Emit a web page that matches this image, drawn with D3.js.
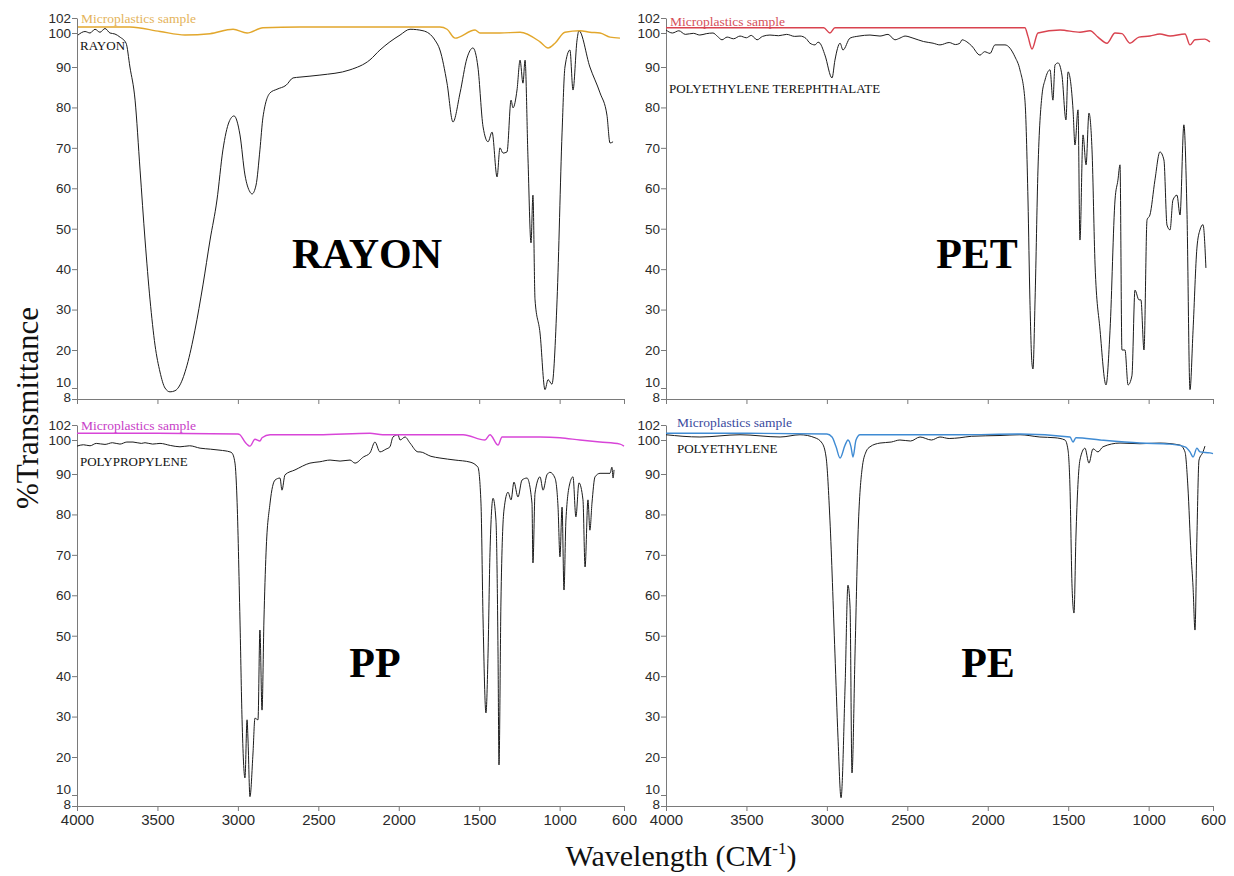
<!DOCTYPE html>
<html>
<head>
<meta charset="utf-8">
<script src="https://cdn.jsdelivr.net/npm/d3@7"></script>
<style>
  body { margin: 0; background: #fff; }
  .axis path, .axis line { stroke: #7a7a7a; }
  .axis text { font-family: "Liberation Sans", Arial, sans-serif; fill: #2a2a2a; }
  .serif { font-family: "Liberation Serif", "Times New Roman", serif; }
</style>
</head>
<body>
<div id="chart"></div>
<script>
const wavenumberTicks = [4000, 3500, 3000, 2500, 2000, 1500, 1000, 600]
const transmittanceTicks = [8, 10, 20, 30, 40, 50, 60, 70, 80, 90, 100, 102]
// the printed y axis is stretched unevenly near both ends
const transmittanceBreaks = [8, 10, 20, 90, 100, 102]

// [wavenumber cm-1, %T]
const rayonReference = [[3994,99.4],[3950,100.2],[3919,100],[3888,100.5],[3857,100.1],[3826,100.6],[3795,100],[3764,99.7],[3733,98.8],[3695,97],[3671,90],[3639,81.8],[3608,64.5],[3577,47.2],[3546,32.4],[3515,21.2],[3484,14.2],[3453,10],[3422,9.3],[3391,9.5],[3360,10.8],[3316,16],[3267,24.9],[3217,36.1],[3173,47.2],[3130,57.1],[3093,69.5],[3055,76.4],[3024,77.9],[2987,73.2],[2956,63.3],[2925,59.1],[2912,58.6],[2887,60.8],[2863,69.5],[2844,77.6],[2800,83.6],[2757,84.5],[2700,85.5],[2657,87.3],[2614,87.5],[2490,88],[2303,89.3],[2179,92.1],[2117,95],[2055,97.4],[1992,99.4],[1930,100.5],[1849,100.3],[1775,97.9],[1744,95],[1700,86],[1663,76.4],[1619,83.6],[1576,92.6],[1539,95.6],[1508,90],[1476,75.2],[1445,71.5],[1420,73.9],[1389,62.8],[1371,70],[1352,68.7],[1327,69],[1302,81.8],[1290,79.9],[1265,84.3],[1246,92],[1228,86],[1215,92],[1197,67.7],[1178,46.5],[1166,58.3],[1153,32.4],[1122,24.2],[1091,9.7],[1072,12.2],[1048,11],[1016,32.4],[985,73.7],[967,90],[936,95],[917,84.3],[892,97.9],[880,100.3],[812,90],[749,83.6],[706,78.1],[687,71.2],[668,71.5]]
const rayonSample = [[3994,100.8],[3671,100.8],[3484,100.2],[3329,99.4],[3173,99.8],[3030,100.5],[2943,100],[2844,100.7],[2614,100.8],[2117,100.8],[1744,100.8],[1700,100.5],[1650,98.5],[1526,100.4],[1495,100],[1371,100],[1246,100.1],[1122,97.4],[1072,95.6],[1029,97],[967,100.1],[874,100.3],[812,100.1],[749,100],[687,98.8],[625,98.5]]

const petReference = [[4000,100.4],[3960,100],[3920,100.3],[3880,99.6],[3830,99.9],[3790,99.4],[3750,99.8],[3708,100],[3680,99],[3652,98],[3620,98.8],[3580,98.3],[3540,99.1],[3500,98.6],[3470,99.3],[3434,98],[3400,99],[3354,99.4],[3300,99.2],[3250,99.6],[3200,99],[3167,99.1],[3130,98.4],[3105,97],[3074,96.5],[3055,97.3],[3043,97],[3012,93.5],[2968,87.3],[2950,92],[2918,97],[2900,95],[2856,98.5],[2800,99.1],[2732,99.4],[2670,99.1],[2620,99.6],[2577,98],[2546,98.5],[2514,99.1],[2465,98.5],[2400,97.5],[2340,97],[2297,96.5],[2240,97.2],[2200,96.6],[2173,97],[2160,98],[2130,97.4],[2100,96.2],[2048,93.5],[2020,94.5],[1986,94],[1955,96.5],[1893,96.5],[1831,93],[1800,89.3],[1769,81.8],[1750,57.1],[1738,32.4],[1725,16.3],[1719,15],[1706,32.4],[1688,64.5],[1663,83],[1644,86.8],[1613,89.3],[1595,81.8],[1582,90.6],[1563,91.2],[1539,88],[1514,76.9],[1501,88.8],[1470,79.4],[1458,70.7],[1439,79.4],[1427,47.2],[1408,73.2],[1389,65.8],[1371,78.6],[1352,69.5],[1333,41],[1302,24.9],[1265,10.8],[1240,24.9],[1209,57.1],[1191,62],[1178,65.8],[1166,20],[1147,20],[1128,10.8],[1104,13.2],[1085,34.8],[1060,32.4],[1048,32.4],[1029,20],[1010,52.2],[992,53.4],[961,62],[930,69],[905,67],[886,50.9],[867,49.7],[849,57.1],[824,58.3],[805,53.4],[781,75.7],[762,54.6],[743,9.7],[724,24.9],[700,45.2],[681,49.7],[662,51],[644,40.3]]
const petSample = [[4000,100.7],[3500,100.7],[3020,100.7],[2981,100],[2950,100.7],[2500,100.7],[1800,100.7],[1769,100.7],[1750,99],[1725,95.3],[1688,100],[1551,100.4],[1427,100.1],[1364,100.3],[1315,98.8],[1259,97],[1209,100],[1166,99.8],[1116,97],[1060,98.8],[992,99.1],[930,99.7],[867,99.1],[774,99.7],[743,96.5],[712,98],[650,98.2],[619,97.4]]

const ppReference = [[4000,98.2],[3960,98.6],[3919,98.3],[3880,99],[3826,98.7],[3780,99.2],[3733,98.8],[3690,99.4],[3652,99.4],[3600,99],[3577,99.2],[3530,98.8],[3484,99],[3420,98.4],[3360,98],[3300,98.3],[3235,97.6],[3170,97.3],[3111,97],[3049,96.5],[3037,96.2],[3018,93.2],[3006,84.3],[2987,53.9],[2974,29.2],[2956,14.5],[2943,29.2],[2937,24.2],[2925,9.7],[2906,21],[2894,29.6],[2875,29.2],[2863,51.4],[2850,31.6],[2838,53.9],[2825,70.5],[2800,82.8],[2769,88.5],[2738,89],[2726,86],[2707,89.8],[2645,91.2],[2552,93.2],[2490,93.6],[2427,94.1],[2365,93.8],[2303,94.1],[2272,93.2],[2220,95],[2179,96.2],[2148,99.4],[2117,96.5],[2080,97.3],[2055,98],[2036,100.4],[2005,100.7],[1992,100],[1961,100.4],[1930,99.1],[1880,96.5],[1868,96.5],[1800,95.2],[1744,94.7],[1650,94.1],[1557,93.5],[1508,92],[1489,82.8],[1476,53.9],[1458,30.9],[1445,45.7],[1433,70.5],[1414,84],[1396,78.6],[1383,45.7],[1377,17.9],[1365,58.1],[1346,81.1],[1321,85.5],[1302,83.6],[1284,88],[1259,84.3],[1234,88.5],[1203,89],[1172,82.8],[1166,68],[1153,85.3],[1122,89.3],[1103,86],[1079,89.8],[1060,90.5],[1029,89],[1010,81.8],[998,69.5],[985,81.8],[973,61.3],[961,78.6],[936,87.8],[917,89.3],[899,79.4],[880,87.8],[855,83.6],[842,67],[824,83.6],[812,76.1],[799,82.8],[780,89.3],[749,90.2],[687,90.2],[675,92],[668,89],[662,91.2]]
const ppSample = [[4000,100.9],[3500,100.9],[3000,100.8],[2987,100.7],[2956,99.4],[2925,98.2],[2894,100.1],[2863,99.7],[2850,100.3],[2800,100.7],[2500,100.7],[2179,100.9],[2100,100.7],[1800,100.7],[1600,100.7],[1464,100],[1433,100.7],[1383,98.5],[1358,100.4],[1122,100.4],[998,100.3],[874,100],[749,99.4],[625,98.8],[600,98.2]]

const peReference = [[4000,100.7],[3789,100.4],[3540,100.7],[3291,100.4],[3167,100.7],[3074,100.3],[3030,99.1],[3005,95],[2981,78.6],[2950,45.7],[2931,24.9],[2912,9.5],[2887,37.3],[2869,62.5],[2856,57.1],[2844,15.8],[2825,45.7],[2807,74.4],[2782,91.2],[2757,96.5],[2732,98],[2670,99.1],[2600,99.4],[2546,100],[2480,99.7],[2421,100.4],[2350,100],[2297,100.4],[2240,100.2],[2173,100.3],[2100,100.5],[1924,100.6],[1800,100.7],[1676,100.4],[1582,100.3],[1520,100],[1501,97],[1489,86.8],[1476,62],[1464,55.6],[1452,74.4],[1427,94.1],[1396,97.6],[1371,93.2],[1346,97.4],[1315,96.5],[1284,98],[1178,99.1],[1054,98.9],[930,99.1],[805,98.5],[774,96.5],[756,86.8],[737,70.5],[724,62],[712,51.4],[700,74.4],[687,94.1],[662,96.5],[650,98.2]]
const peSample = [[4000,100.9],[3500,100.9],[3000,100.8],[2968,100.4],[2943,98],[2918,94.7],[2887,98.5],[2869,100],[2850,98],[2838,95],[2819,100],[2794,100.7],[2173,100.7],[1800,100.8],[1489,100.4],[1470,99.4],[1452,100.3],[1302,100],[1054,99.1],[867,98.8],[774,98],[743,96.5],[724,95],[700,97.6],[681,96.5],[619,96.2],[600,96]]

const sampleLabel = "Microplastics sample"

const width = 1234
const height = 876
const colX = [[77, 624], [666, 1213]]
const rowY = [[399, 388, 350, 67, 33, 18], [806, 795, 757, 474, 440, 425]]

const panels = [
    {col: 0, row: 0, ref: rayonReference, sample: rayonSample, refName: "RAYON", tag: "RAYON",
     line: "#e2a72c", text: "#e4b35a", labelX: 81, labelY: 23, refX: 80, refY: 50, tagX: 367, tagY: 268},
    {col: 1, row: 0, ref: petReference, sample: petSample, refName: "POLYETHYLENE TEREPHTHALATE", tag: "PET",
     line: "#d9434f", text: "#d5505a", labelX: 670, labelY: 26, refX: 669, refY: 93, tagX: 977, tagY: 268},
    {col: 0, row: 1, ref: ppReference, sample: ppSample, refName: "POLYPROPYLENE", tag: "PP",
     line: "#d845d8", text: "#c740c7", labelX: 81, labelY: 430, refX: 80, refY: 466, tagX: 375, tagY: 677},
    {col: 1, row: 1, ref: peReference, sample: peSample, refName: "POLYETHYLENE", tag: "PE",
     line: "#3f8bd3", text: "#3a4a9e", labelX: 677, labelY: 427, refX: 677, refY: 453, tagX: 988, tagY: 677}
]

const svg = d3.select("#chart")
    .append("svg")
    .attr("width", width)
    .attr("height", height)

panels.forEach(p => {
    const xScale = d3.scaleLinear()
        .domain([4000, 600])
        .range(colX[p.col])

    const yScale = d3.scaleLinear()
        .domain(transmittanceBreaks)
        .range(rowY[p.row])

    const g = svg.append("g")

    const xAxis = d3.axisBottom(xScale)
        .tickValues(wavenumberTicks)
        .tickFormat(p.row === 0 ? "" : d3.format("d"))
        .tickSize(5)
        .tickPadding(3)
        .tickSizeOuter(0)

    g.append("g")
        .attr("class", "axis x-axis")
        .attr("transform", `translate(0, ${rowY[p.row][0]})`)
        .call(xAxis)
        .selectAll("text")
        .style("font-size", "15px")

    const yAxis = d3.axisLeft(yScale)
        .tickValues(transmittanceTicks)
        .tickSize(5)
        .tickPadding(1)
        .tickSizeOuter(0)

    // the "10" and "8" labels sit close, nudge them apart like the print
    g.append("g")
        .attr("class", "axis y-axis")
        .attr("transform", `translate(${colX[p.col][0]}, 0)`)
        .call(yAxis)
        .selectAll("text")
        .style("font-size", "13.5px")
        .attr("dy", d => d === 10 ? "-0.12em" : d === 8 ? "0.2em" : "0.32em")

    const line = d3.line()
        .x(d => xScale(d[0]))
        .y(d => yScale(d[1]))
        .curve(d3.curveMonotoneX)

    g.append("path")
        .datum(p.ref)
        .attr("fill", "none")
        .attr("stroke", "#1c1c1c")
        .attr("stroke-width", 1)
        .attr("stroke-linejoin", "round")
        .attr("d", line)

    g.append("path")
        .datum(p.sample)
        .attr("fill", "none")
        .attr("stroke", p.line)
        .attr("stroke-width", 1.4)
        .attr("stroke-linejoin", "round")
        .attr("d", line)

    g.append("text")
        .attr("class", "serif")
        .attr("x", p.labelX)
        .attr("y", p.labelY)
        .attr("font-size", 13.5)
        .attr("fill", p.text)
        .text(sampleLabel)

    g.append("text")
        .attr("class", "serif")
        .attr("x", p.refX)
        .attr("y", p.refY)
        .attr("font-size", 13)
        .attr("fill", "#111")
        .text(p.refName)

    g.append("text")
        .attr("class", "serif")
        .attr("x", p.tagX)
        .attr("y", p.tagY)
        .attr("text-anchor", "middle")
        .attr("font-size", 42)
        .attr("font-weight", "bold")
        .attr("fill", "#000")
        .text(p.tag)
})

svg.append("text")
    .attr("class", "serif")
    .attr("transform", "translate(38, 408) rotate(-90)")
    .attr("text-anchor", "middle")
    .attr("font-size", 31)
    .attr("fill", "#111")
    .text("%Transmittance")

const xTitle = svg.append("text")
    .attr("class", "serif")
    .attr("x", 681)
    .attr("y", 866)
    .attr("text-anchor", "middle")
    .attr("font-size", 30)
    .attr("fill", "#111")
xTitle.append("tspan").text("Wavelength (CM")
xTitle.append("tspan").attr("font-size", 17).attr("dy", -12).text("-1")
xTitle.append("tspan").attr("dy", 12).text(")")
</script>
</body>
</html>
